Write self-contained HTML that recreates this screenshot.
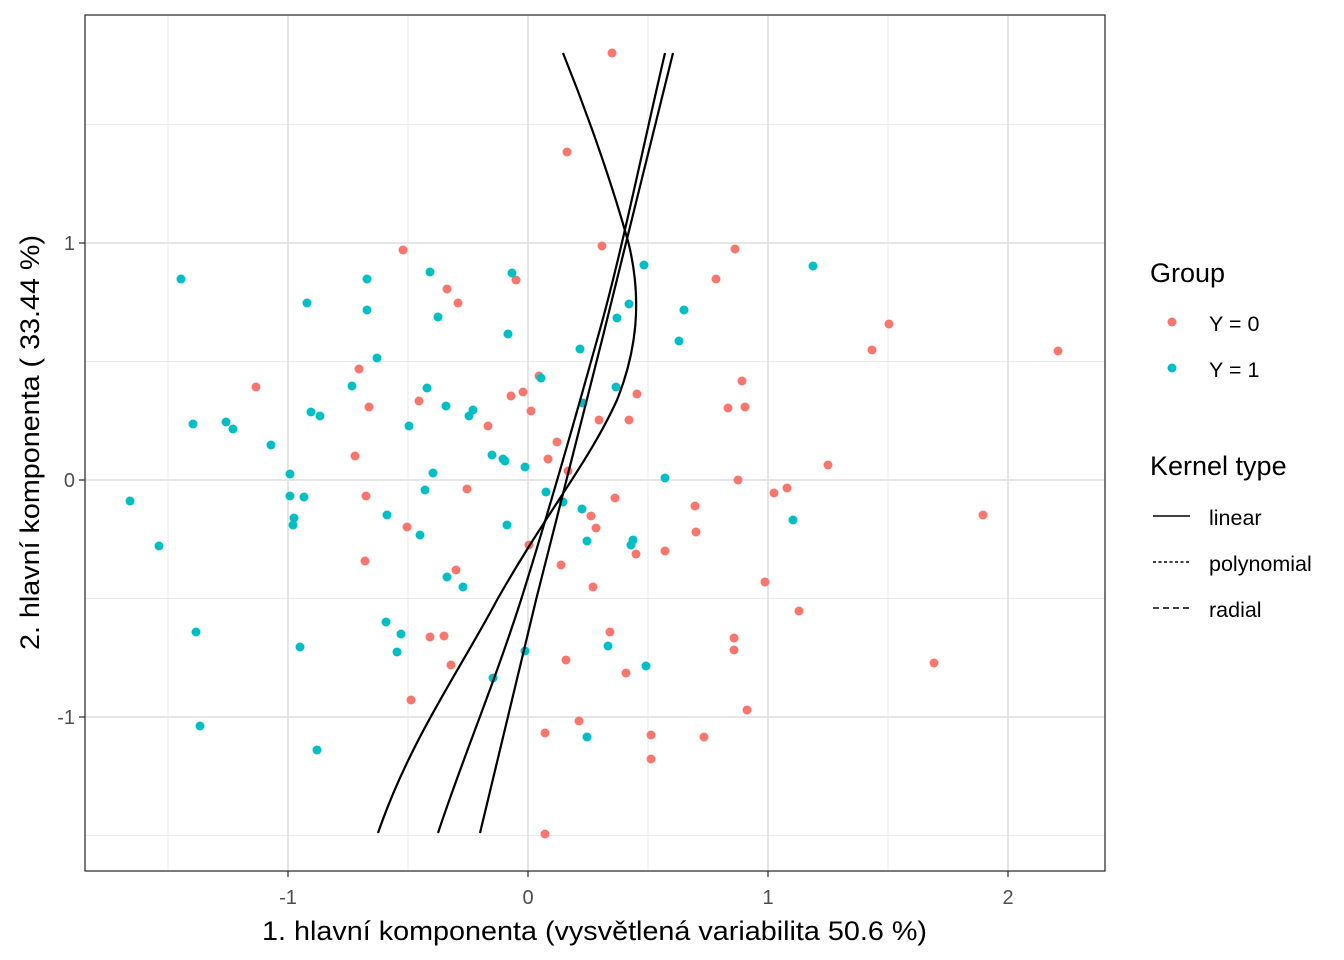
<!DOCTYPE html>
<html><head><meta charset="utf-8"><style>body{margin:0;background:#fff}svg{display:block}text{font-family:"Liberation Sans",Arial,sans-serif}</style></head><body>
<svg width="1344" height="960" xmlns="http://www.w3.org/2000/svg">
<rect width="1344" height="960" fill="#fff"/>
<g stroke="#ebebeb" stroke-width="1.1">
<line x1="168" y1="15" x2="168" y2="871"/><line x1="408" y1="15" x2="408" y2="871"/><line x1="648" y1="15" x2="648" y2="871"/><line x1="888" y1="15" x2="888" y2="871"/>
<line x1="85" y1="124.5" x2="1105" y2="124.5"/><line x1="85" y1="361.5" x2="1105" y2="361.5"/><line x1="85" y1="598.5" x2="1105" y2="598.5"/><line x1="85" y1="835.5" x2="1105" y2="835.5"/>
</g>
<g stroke="#e6e6e6" stroke-width="2">
<line x1="288" y1="15" x2="288" y2="871"/><line x1="528" y1="15" x2="528" y2="871"/><line x1="768" y1="15" x2="768" y2="871"/><line x1="1008" y1="15" x2="1008" y2="871"/>
<line x1="85" y1="243" x2="1105" y2="243"/><line x1="85" y1="480" x2="1105" y2="480"/><line x1="85" y1="717" x2="1105" y2="717"/>
</g>
<g fill="#F8766D">
<circle cx="612" cy="53" r="4.5"/><circle cx="567" cy="152" r="4.5"/><circle cx="403" cy="250" r="4.5"/><circle cx="602" cy="246" r="4.5"/><circle cx="735" cy="249" r="4.5"/><circle cx="447" cy="289" r="4.5"/><circle cx="458" cy="303" r="4.5"/><circle cx="516" cy="280" r="4.5"/><circle cx="716" cy="279" r="4.5"/><circle cx="889" cy="324" r="4.5"/><circle cx="872" cy="350" r="4.5"/><circle cx="1058" cy="351" r="4.5"/><circle cx="359" cy="369" r="4.5"/><circle cx="369" cy="407" r="4.5"/><circle cx="256" cy="387" r="4.5"/><circle cx="419" cy="401" r="4.5"/><circle cx="511" cy="396" r="4.5"/><circle cx="523" cy="392" r="4.5"/><circle cx="531" cy="411" r="4.5"/><circle cx="539" cy="376" r="4.5"/><circle cx="637" cy="394" r="4.5"/><circle cx="742" cy="381" r="4.5"/><circle cx="728" cy="408" r="4.5"/><circle cx="745" cy="407" r="4.5"/><circle cx="599" cy="420" r="4.5"/><circle cx="629" cy="420" r="4.5"/><circle cx="488" cy="426" r="4.5"/><circle cx="557" cy="442" r="4.5"/><circle cx="355" cy="456" r="4.5"/><circle cx="548" cy="459" r="4.5"/><circle cx="568" cy="471" r="4.5"/><circle cx="738" cy="480" r="4.5"/><circle cx="828" cy="465" r="4.5"/><circle cx="787" cy="488" r="4.5"/><circle cx="774" cy="493" r="4.5"/><circle cx="366" cy="496" r="4.5"/><circle cx="467" cy="489" r="4.5"/><circle cx="615" cy="498" r="4.5"/><circle cx="695" cy="506" r="4.5"/><circle cx="407" cy="527" r="4.5"/><circle cx="591" cy="516" r="4.5"/><circle cx="596" cy="528" r="4.5"/><circle cx="696" cy="532" r="4.5"/><circle cx="529" cy="545" r="4.5"/><circle cx="636" cy="554" r="4.5"/><circle cx="665" cy="551" r="4.5"/><circle cx="365" cy="561" r="4.5"/><circle cx="561" cy="565" r="4.5"/><circle cx="456" cy="570" r="4.5"/><circle cx="593" cy="587" r="4.5"/><circle cx="765" cy="582" r="4.5"/><circle cx="799" cy="611" r="4.5"/><circle cx="610" cy="632" r="4.5"/><circle cx="430" cy="637" r="4.5"/><circle cx="444" cy="636" r="4.5"/><circle cx="451" cy="665" r="4.5"/><circle cx="626" cy="673" r="4.5"/><circle cx="734" cy="638" r="4.5"/><circle cx="734" cy="650" r="4.5"/><circle cx="566" cy="660" r="4.5"/><circle cx="934" cy="663" r="4.5"/><circle cx="411" cy="700" r="4.5"/><circle cx="747" cy="710" r="4.5"/><circle cx="579" cy="721" r="4.5"/><circle cx="545" cy="733" r="4.5"/><circle cx="651" cy="735" r="4.5"/><circle cx="704" cy="737" r="4.5"/><circle cx="651" cy="759" r="4.5"/><circle cx="983" cy="515" r="4.5"/><circle cx="545" cy="834" r="4.5"/>
</g>
<g fill="#00BFC4">
<circle cx="181" cy="279" r="4.5"/><circle cx="130" cy="501" r="4.5"/><circle cx="159" cy="546" r="4.5"/><circle cx="193" cy="424" r="4.5"/><circle cx="226" cy="422" r="4.5"/><circle cx="233" cy="429" r="4.5"/><circle cx="271" cy="445" r="4.5"/><circle cx="307" cy="303" r="4.5"/><circle cx="311" cy="412" r="4.5"/><circle cx="320" cy="416" r="4.5"/><circle cx="367" cy="279" r="4.5"/><circle cx="367" cy="310" r="4.5"/><circle cx="377" cy="358" r="4.5"/><circle cx="352" cy="386" r="4.5"/><circle cx="290" cy="474" r="4.5"/><circle cx="290" cy="496" r="4.5"/><circle cx="304" cy="497" r="4.5"/><circle cx="294" cy="518" r="4.5"/><circle cx="293" cy="525" r="4.5"/><circle cx="387" cy="515" r="4.5"/><circle cx="409" cy="426" r="4.5"/><circle cx="427" cy="388" r="4.5"/><circle cx="433" cy="473" r="4.5"/><circle cx="425" cy="490" r="4.5"/><circle cx="420" cy="535" r="4.5"/><circle cx="446" cy="406" r="4.5"/><circle cx="430" cy="272" r="4.5"/><circle cx="438" cy="317" r="4.5"/><circle cx="473" cy="410" r="4.5"/><circle cx="469" cy="416" r="4.5"/><circle cx="512" cy="273" r="4.5"/><circle cx="508" cy="334" r="4.5"/><circle cx="541" cy="378" r="4.5"/><circle cx="580" cy="349" r="4.5"/><circle cx="583" cy="403" r="4.5"/><circle cx="617" cy="318" r="4.5"/><circle cx="629" cy="304" r="4.5"/><circle cx="644" cy="265" r="4.5"/><circle cx="684" cy="310" r="4.5"/><circle cx="679" cy="341" r="4.5"/><circle cx="492" cy="455" r="4.5"/><circle cx="503" cy="459" r="4.5"/><circle cx="505" cy="461" r="4.5"/><circle cx="525" cy="467" r="4.5"/><circle cx="546" cy="492" r="4.5"/><circle cx="563" cy="502" r="4.5"/><circle cx="582" cy="509" r="4.5"/><circle cx="587" cy="541" r="4.5"/><circle cx="633" cy="540" r="4.5"/><circle cx="631" cy="545" r="4.5"/><circle cx="616" cy="387" r="4.5"/><circle cx="665" cy="478" r="4.5"/><circle cx="793" cy="520" r="4.5"/><circle cx="813" cy="266" r="4.5"/><circle cx="507" cy="525" r="4.5"/><circle cx="447" cy="577" r="4.5"/><circle cx="463" cy="587" r="4.5"/><circle cx="196" cy="632" r="4.5"/><circle cx="300" cy="647" r="4.5"/><circle cx="386" cy="622" r="4.5"/><circle cx="401" cy="634" r="4.5"/><circle cx="397" cy="652" r="4.5"/><circle cx="525" cy="651" r="4.5"/><circle cx="493" cy="678" r="4.5"/><circle cx="608" cy="646" r="4.5"/><circle cx="646" cy="666" r="4.5"/><circle cx="587" cy="737" r="4.5"/><circle cx="200" cy="726" r="4.5"/><circle cx="317" cy="750" r="4.5"/>
</g>
<g fill="none" stroke="#000" stroke-width="2.2">
<path d="M673,53 L602,340 L536,600 L480,833"/>
<path d="M665,53 C640,160 620,260 597,340 C572,430 546,520 521,600 C492,690 462,760 438,833"/>
<path d="M563,53 C590,120 614,190 629,245 C642,300 637,350 617,400 C590,460 545,515 497,600 C460,670 410,740 378,833"/>
</g>
<rect x="85" y="15" width="1020" height="856" fill="none" stroke="#333" stroke-width="1.3"/>
<g stroke="#333" stroke-width="1.3">
<line x1="288" y1="871" x2="288" y2="877"/><line x1="528" y1="871" x2="528" y2="877"/><line x1="768" y1="871" x2="768" y2="877"/><line x1="1008" y1="871" x2="1008" y2="877"/>
<line x1="79" y1="243" x2="85" y2="243"/><line x1="79" y1="480" x2="85" y2="480"/><line x1="79" y1="717" x2="85" y2="717"/>
</g>
<g font-size="20" fill="#4d4d4d" text-anchor="middle">
<text x="288" y="904">-1</text><text x="528" y="904">0</text><text x="768" y="904">1</text><text x="1008" y="904">2</text>
</g>
<g font-size="20" fill="#4d4d4d" text-anchor="end">
<text x="75" y="250">1</text><text x="75" y="487">0</text><text x="75" y="724">-1</text>
</g>
<text x="262" y="940" font-size="27" textLength="665" lengthAdjust="spacingAndGlyphs" fill="#000">1. hlavní komponenta (vysvětlená variabilita 50.6 %)</text>
<text transform="translate(39,650) rotate(-90)" font-size="27" textLength="415" lengthAdjust="spacingAndGlyphs" fill="#000">2. hlavní komponenta ( 33.44 %)</text>
<text x="1150" y="282" font-size="27" fill="#000">Group</text>
<circle cx="1172" cy="322" r="4.5" fill="#F8766D"/><text x="1209" y="331" font-size="21.5">Y = 0</text>
<circle cx="1172" cy="368" r="4.5" fill="#00BFC4"/><text x="1209" y="377" font-size="21.5">Y = 1</text>
<text x="1150" y="475" font-size="27" fill="#000">Kernel type</text>
<line x1="1153" y1="516" x2="1190" y2="516" stroke="#000" stroke-width="1.6"/><text x="1209" y="525" font-size="21.5">linear</text>
<line x1="1153" y1="562" x2="1190" y2="562" stroke="#000" stroke-width="1.4" stroke-dasharray="3,2.5"/><text x="1209" y="571" font-size="21.5">polynomial</text>
<line x1="1153" y1="608" x2="1190" y2="608" stroke="#000" stroke-width="1.4" stroke-dasharray="6,4"/><text x="1209" y="617" font-size="21.5">radial</text>
</svg>
</body></html>
